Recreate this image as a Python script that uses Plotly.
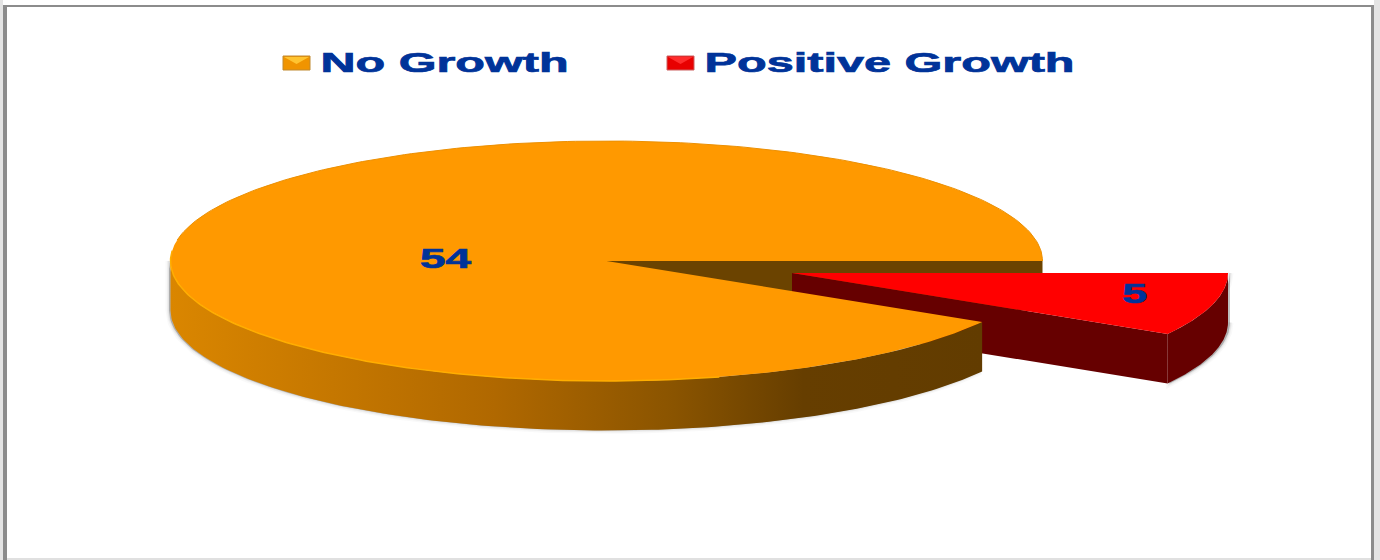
import json
import numpy as np
import plotly.graph_objects as go

# Chart data
categories = ["No Growth", "Positive Growth"]
values = [54, 5]

# Pie geometry (axis units equal page pixels)
CX, CY = 606.5, 261
RX, RY = 436, 120
DEPTH = 49.5
EXPLODE_DX, EXPLODE_DY = 185.5, 12

TEXT_BLUE = "#003399"
FONT = "Liberation Sans"

sweep = 360 * values[1] / sum(values)


def arc(start, stop, cx=CX, cy=CY, n=160):
    t = np.radians(np.linspace(start, stop, n))
    return cx + RX * np.cos(t), cy + RY * np.sin(t)


def poly(x, y, **kw):
    return go.Scatter(x=list(x), y=list(y), mode="lines", fill="toself",
                      hoverinfo="skip", showlegend=False, **kw)


def wall(start, stop, cx=CX, cy=CY):
    x, y = arc(start, stop, cx, cy)
    return np.r_[x, x[::-1]], np.r_[y, (y + DEPTH)[::-1]]


fig = go.Figure()
rx_c, ry_c = CX + EXPLODE_DX, CY + EXPLODE_DY

# Soft drop shadows behind the walls
shx, shy = wall(sweep, 180)
for w, a in [(7, 0.035), (4, 0.06), (2, 0.08)]:
    fig.add_trace(poly(shx - 1.5, shy, line=dict(color=f"rgba(90,90,90,{a})", width=w),
                       fillcolor="rgba(90,90,90,0.15)"))
rsx, rsy = wall(0, sweep, rx_c, ry_c)
for w, a in [(7, 0.035), (4, 0.06), (2, 0.08)]:
    fig.add_trace(poly(rsx + 2, rsy, line=dict(color=f"rgba(90,90,90,{a})", width=w),
                       fillcolor="rgba(90,90,90,0.15)"))

# Cut face of the main slice, seen through the gap
ex, ey = arc(0, 0, n=1)
fig.add_trace(poly([CX, ex[0], ex[0], CX], [CY, CY, CY + DEPTH, CY + DEPTH],
                   line=dict(color="#6b4300", width=0), fillcolor="#6b4300"))

# Exploded slice: radial wall, outer wall, top
tx, ty = arc(0, sweep, rx_c, ry_c)
fig.add_trace(poly([rx_c, tx[-1], tx[-1], rx_c],
                   [ry_c, ty[-1], ty[-1] + DEPTH, ry_c + DEPTH],
                   line=dict(color="#660000", width=0), fillcolor="#660000"))
wx, wy = wall(0, sweep, rx_c, ry_c)
fig.add_trace(poly(wx, wy, line=dict(color="#660000", width=0), fillcolor="#660000"))
fig.add_trace(poly(np.r_[rx_c, tx], np.r_[ry_c, ty],
                   line=dict(color="#ff0000", width=0), fillcolor="#ff0000"))

# Main slice: shaded outer wall, then top
ox, oy = wall(sweep, 180)
fig.add_trace(go.Scatter(
    x=list(ox), y=list(oy), mode="lines", fill="toself", hoverinfo="skip", showlegend=False,
    line=dict(width=0),
    fillgradient=dict(type="horizontal", colorscale=[
        [0.0, "#da8600"], [0.40, "#b06800"], [0.62, "#8a5400"],
        [0.78, "#663e00"], [1.0, "#623c00"]]),
))
px_, py_ = arc(sweep, 360, n=400)
fig.add_trace(poly(np.r_[CX, px_], np.r_[CY, py_],
                   line=dict(color="#ff9900", width=0), fillcolor="#ff9900"))

# Thin rims along the top edge of the main slice
rimx, rimy = arc(75, 185)
fig.add_trace(go.Scatter(x=list(rimx), y=list(rimy), mode="lines", hoverinfo="skip",
                         showlegend=False, line=dict(color="#ffae00", width=1.5)))
backx, backy = arc(190, 360)
fig.add_trace(go.Scatter(x=list(backx), y=list(backy), mode="lines", hoverinfo="skip",
                         showlegend=False, line=dict(color="#ec9003", width=1)))

# Value labels and legend text
text_widths = {}


def label(x, y, text, width):
    text_widths[text] = width
    fig.add_annotation(x=x, y=y, xref="x", yref="y", text=text, showarrow=False,
                       xanchor="center", yanchor="middle",
                       font=dict(family=FONT, size=28, color=TEXT_BLUE, weight="bold"))


label(444.5, 62, categories[0], 248)
label(889.5, 62, categories[1], 370)
label(446, 258, str(values[0]), 51)
label(1135, 293, str(values[1]), 25)

# Page frame and legend swatches
shapes = [
    dict(type="rect", x0=0, x1=3, y0=0, y1=560, fillcolor="#e4e4e4", line_width=0, layer="below"),
    dict(type="rect", x0=1374, x1=1380, y0=0, y1=560, fillcolor="#e4e4e4", line_width=0, layer="below"),
    dict(type="rect", x0=3, x1=7, y0=5, y1=560, fillcolor="#8c8c8c", line_width=0, layer="below"),
    dict(type="rect", x0=1371, x1=1374, y0=5, y1=560, fillcolor="#8c8c8c", line_width=0, layer="below"),
    dict(type="rect", x0=3, x1=1374, y0=5, y1=7, fillcolor="#8c8c8c", line_width=0, layer="below"),
    dict(type="rect", x0=7, x1=1371, y0=558, y1=560, fillcolor="#e0e0e0", line_width=0, layer="below"),
]
for x0, fill, edge, glow in [(283, "#f09400", "#c08a30", "#ffc430"),
                             (667, "#e80000", "#cc6060", "#ff2c2c")]:
    x1 = x0 + 27
    shapes.append(dict(type="rect", x0=x0, x1=x1, y0=56, y1=70, fillcolor=fill,
                       line=dict(color=edge, width=1)))
    shapes.append(dict(type="path", path=f"M{x0+1},57 L{x1-1},57 L{(x0+x1)/2},64 Z",
                       fillcolor=glow, line_width=0))

fig.update_layout(
    width=1380, height=560, margin=dict(l=0, r=0, t=0, b=0),
    paper_bgcolor="white", plot_bgcolor="white", showlegend=False, shapes=shapes,
    xaxis=dict(range=[0, 1380], visible=False, fixedrange=True),
    yaxis=dict(range=[560, 0], visible=False, fixedrange=True),
)

# The typeface is extended sideways and heavy; set each label's run length after drawing
post = """
var widths = %s;
document.querySelectorAll('text.annotation-text').forEach(function (t) {
  var w = widths[t.textContent];
  if (w) {
    t.setAttribute('textLength', w);
    t.setAttribute('lengthAdjust', 'spacingAndGlyphs');
    t.style.stroke = '%s';
    t.style.strokeWidth = '0.7px';
  }
});
""" % (json.dumps(text_widths), TEXT_BLUE)

fig.write_html("out.html", post_script=post, config={"displayModeBar": False})
